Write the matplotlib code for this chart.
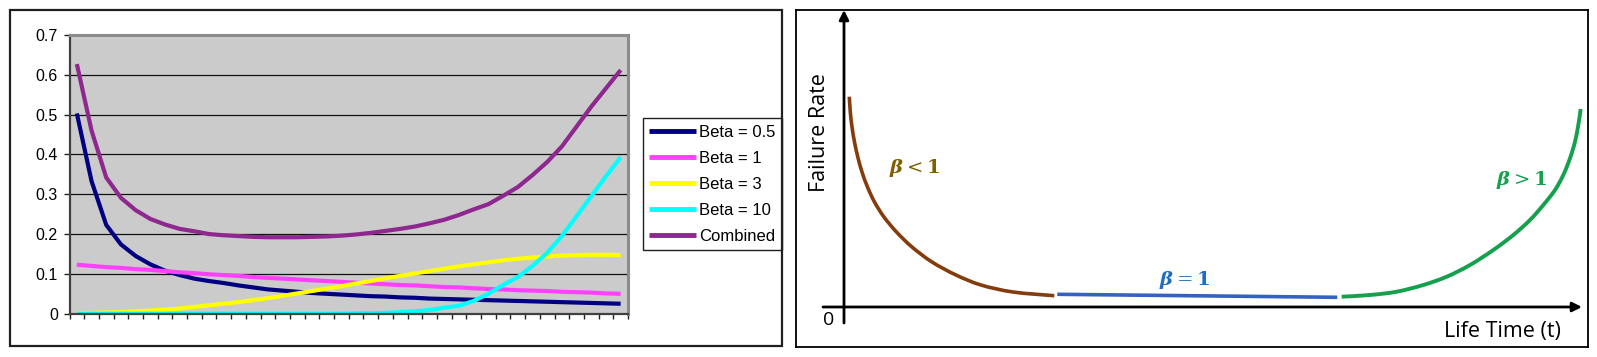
import numpy as np
import matplotlib
matplotlib.use('Agg')
import matplotlib.pyplot as plt
from matplotlib.patches import Rectangle, PathPatch
from matplotlib.path import Path

W, H = 1597, 357

# ---- left chart: values, one per category ----
beta_05 = [0.503, 0.333, 0.223, 0.174, 0.145, 0.124, 0.108, 0.097, 0.088, 0.082,
           0.077, 0.071, 0.066, 0.061, 0.058, 0.055, 0.052, 0.050, 0.048, 0.046,
           0.044, 0.043, 0.041, 0.040, 0.038, 0.037, 0.036, 0.035, 0.034, 0.033,
           0.032, 0.031, 0.030, 0.029, 0.028, 0.027, 0.026, 0.025]
beta_1 = [0.123, 0.120, 0.117, 0.115, 0.112, 0.110, 0.107, 0.104, 0.102, 0.099,
          0.097, 0.095, 0.092, 0.090, 0.088, 0.086, 0.084, 0.082, 0.080, 0.078,
          0.076, 0.074, 0.072, 0.071, 0.069, 0.067, 0.066, 0.064, 0.062, 0.061,
          0.059, 0.058, 0.057, 0.055, 0.054, 0.053, 0.051, 0.050]
beta_3 = [0.001, 0.002, 0.003, 0.004, 0.006, 0.008, 0.010, 0.013, 0.017, 0.021,
          0.025, 0.029, 0.034, 0.039, 0.045, 0.051, 0.057, 0.063, 0.069, 0.076,
          0.082, 0.089, 0.095, 0.101, 0.107, 0.113, 0.119, 0.124, 0.129, 0.134,
          0.138, 0.141, 0.144, 0.146, 0.147, 0.148, 0.148, 0.147]
beta_10 = [0.0, 0.0, 0.0, 0.0, 0.0, 0.0, 0.0, 0.0, 0.0, 0.0,
           0.0, 0.0, 0.0, 0.0, 0.0, 0.0, 0.0, 0.0, 0.0, 0.001,
           0.001, 0.002, 0.004, 0.006, 0.009, 0.015, 0.020, 0.032, 0.050, 0.072,
           0.092, 0.120, 0.153, 0.195, 0.245, 0.295, 0.345, 0.393]
combined = [0.627, 0.460, 0.342, 0.291, 0.260, 0.238, 0.224, 0.213, 0.207, 0.200,
            0.197, 0.195, 0.193, 0.192, 0.192, 0.192, 0.193, 0.194, 0.196, 0.199,
            0.203, 0.208, 0.213, 0.219, 0.227, 0.236, 0.248, 0.262, 0.275, 0.296,
            0.318, 0.348, 0.381, 0.420, 0.470, 0.520, 0.566, 0.612]
series_labels = ['Beta = 0.5', 'Beta = 1', 'Beta = 3', 'Beta = 10', 'Combined']
series_colors = ['#000080', '#FF40FF', '#FFFF00', '#00FFFF', '#8E278E']
y_ticks = [0, 0.1, 0.2, 0.3, 0.4, 0.5, 0.6, 0.7]
y_tick_labels = ['0', '0.1', '0.2', '0.3', '0.4', '0.5', '0.6', '0.7']

# ---- right chart: bathtub sketch, in sketch units (origin at the axes corner) ----
early_t = [5.3, 6.3, 8, 10.5, 13.8, 18, 23.5, 30.5, 40, 52.5, 68, 88, 112, 137, 169, 210.3]
early_rate = [210.3, 195, 180, 165, 150, 135, 120, 105, 90, 75, 60, 45, 32, 22, 15, 11.3]
useful_t = [213.3, 493.3]
useful_rate = [12.7, 9.7]
wear_t = [497.7, 526, 552.7, 579.3, 602.7, 626, 649.3, 669.3, 686, 699.3, 711, 719.3, 726, 731, 734.3, 736.7]
wear_rate = [10.3, 12, 15.3, 22, 30.3, 42, 57, 72, 87, 102, 117, 132, 148.7, 165.3, 182, 198]

plt.rcParams['font.family'] = ['Liberation Sans', 'DejaVu Sans']
plt.rcParams['mathtext.fontset'] = 'dejavuserif'

fig = plt.figure(figsize=(W / 100, H / 100), dpi=100)


def fx(px):
    return px / W


def fy(py):
    return 1 - py / H


def smooth_path(xs, ys):
    # bezier path through every read point (catmull-rom tangents)
    p = np.column_stack([xs, ys]).astype(float)
    verts = [p[0]]
    codes = [Path.MOVETO]
    for i in range(len(p) - 1):
        p0 = p[i - 1] if i > 0 else p[i]
        p3 = p[i + 2] if i + 2 < len(p) else p[i + 1]
        c1 = p[i] + (p[i + 1] - p0) / 6
        c2 = p[i + 1] - (p3 - p[i]) / 6
        verts += [c1, c2, p[i + 1]]
        codes += [Path.CURVE4] * 3
    return Path(verts, codes)


# outer frame of the excel chart
fig.add_artist(Rectangle((fx(10), fy(346)), fx(782) - fx(10), fy(10) - fy(346),
                         transform=fig.transFigure, fill=False, ec='#202020', lw=1.6))

ax = fig.add_axes([fx(69.5), fy(313.7), fx(628) - fx(69.5), fy(35) - fy(313.7)])
ax.set_facecolor('#CBCBCB')
x = np.arange(len(beta_05))
for vals, lab, col in zip([beta_05, beta_1, beta_3, beta_10, combined], series_labels, series_colors):
    ax.plot(x, vals, color=col, lw=3, label=lab, solid_capstyle='butt', solid_joinstyle='round')

ax.set_xlim(-0.5, len(x) - 0.5)
ax.set_ylim(0, 0.7)
ax.set_yticks(y_ticks)
ax.set_yticklabels(y_tick_labels, fontsize=11.5)
ax.set_xticks(np.arange(len(x) + 1) - 0.5)
ax.set_xticklabels([])
ax.tick_params(axis='y', direction='out', length=4.3, width=1, pad=4, color='#202020')
ax.tick_params(axis='x', direction='out', length=3.6, width=1, color='#202020')
for v in y_ticks[1:-1]:
    ax.axhline(v, color='#111111', lw=0.9, zorder=1)
for s in ['top', 'right']:
    ax.spines[s].set_color('#8C8C8C')
    ax.spines[s].set_linewidth(2.2)
for s in ['left', 'bottom']:
    ax.spines[s].set_color('#404040')
    ax.spines[s].set_linewidth(1.6)

leg = ax.legend(loc='upper left', bbox_to_anchor=(fx(643), fy(118.3)), bbox_transform=fig.transFigure,
                fontsize=12, handlelength=2.8, handletextpad=0.18, labelspacing=0.66,
                borderpad=0.38, borderaxespad=0, fancybox=False, framealpha=1)
leg.get_frame().set_edgecolor('#202020')
leg.get_frame().set_linewidth(1)
for line in leg.get_lines():
    line.set_linewidth(3.5)

# ---- right chart ----
ax2 = fig.add_axes([fx(796), fy(347), fx(1588) - fx(796), fy(9.5) - fy(347)])
ax2.set_xlim(796 - 844, 1588 - 844)
ax2.set_ylim(307 - 347, 307 - 9.5)
ax2.set_xticks([])
ax2.set_yticks([])
for s in ax2.spines.values():
    s.set_color('black')
    s.set_linewidth(1.3)

ax2.annotate('', xy=(738, 0), xytext=(-21, 0),
             arrowprops=dict(arrowstyle='-|>', color='black', lw=2, mutation_scale=14, shrinkA=0, shrinkB=0))
ax2.annotate('', xy=(0, 297), xytext=(0, -16),
             arrowprops=dict(arrowstyle='-|>', color='black', lw=2, mutation_scale=14, shrinkA=0, shrinkB=0))

ax2.add_patch(PathPatch(smooth_path(early_t, early_rate), fill=False, ec='#843C0C', lw=2.6, capstyle='butt'))
ax2.plot(useful_t, useful_rate, color='#3462C0', lw=2.6, solid_capstyle='butt')
ax2.add_patch(PathPatch(smooth_path(wear_t, wear_rate), fill=False, ec='#14A04C', lw=2.8, capstyle='butt'))

ax2.text(71, 138.7, r'$\boldsymbol{\beta} < \mathbf{1}$', color='#7F6000', fontsize=14, ha='center', va='center')
ax2.text(341, 27, r'$\boldsymbol{\beta} = \mathbf{1}$', color='#1F6FC0', fontsize=14, ha='center', va='center')
ax2.text(678, 127, r'$\boldsymbol{\beta} > \mathbf{1}$', color='#14A04C', fontsize=14, ha='center', va='center')

ax2.text(-24.7, 174, 'Failure Rate', rotation=90, fontsize=15.5, family='Open Sans', ha='center', va='center')
ax2.text(658, -25, 'Life Time (t)', fontsize=15.5, family='Open Sans', ha='center', va='center')
ax2.text(-15, -13, '0', fontsize=14, family='Open Sans', ha='center', va='center')

fig.savefig('out.png', dpi=100)
